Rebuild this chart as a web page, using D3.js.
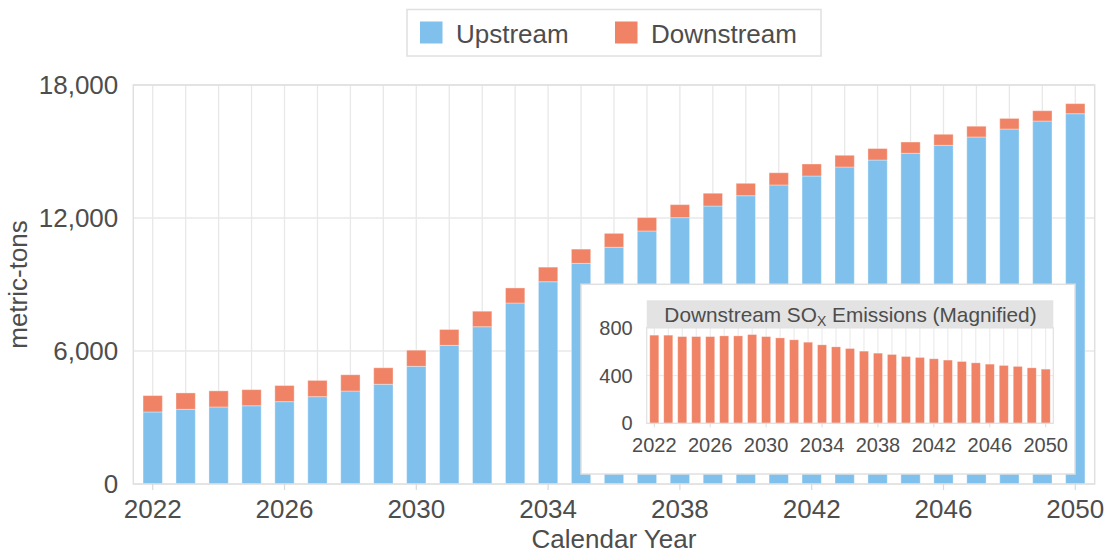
<!DOCTYPE html>
<html>
<head>
<meta charset="utf-8">
<script src="https://cdn.jsdelivr.net/npm/d3@7"></script>
<style>
  html, body { margin: 0; padding: 0; background: #fff; }
  svg { display: block; }
  text { font-family: "Liberation Sans", Arial, sans-serif; fill: #4d4d4d; }
</style>
</head>
<body>
<svg id="chart" width="1107" height="554"></svg>
<script>
// ---- data ----
const years = d3.range(2022, 2051);
const upstream = [3250, 3370, 3475, 3530, 3715, 3940, 4195, 4500, 5310, 6255,
                  7095, 8165, 9125, 9955, 10680, 11415, 12015, 12540, 13005, 13490,
                  13895, 14300, 14615, 14920, 15280, 15655, 16015, 16375, 16705];
const downstream = [739, 739, 727, 727, 727, 733, 733, 744, 727, 716,
                    700, 680, 658, 641, 627, 605, 588, 577, 560, 552,
                    541, 530, 518, 507, 496, 485, 477, 465, 454];
const seriesNames = ["Upstream", "Downstream"];
const yTicks = [0, 6000, 12000, 18000];
const xTickYears = [2022, 2026, 2030, 2034, 2038, 2042, 2046, 2050];
const insetYTicks = [0, 400, 800];

const colors = { Upstream: "#7fc0ed", Downstream: "#f08365" };
const gridColor = "#e8e8e8";
const borderColor = "#e0e0e0";

const svg = d3.select("#chart");

// ---- main chart ----
const x = d3.scaleBand().domain(years).range([133.3, 1094.7]).paddingInner(0.414).paddingOuter(0.296);
const y = d3.scaleLinear().domain([0, 18000]).range([484, 85]);

const main = svg.append("g");
// vertical gridlines at every year
main.append("g").selectAll("line").data(years).join("line")
  .attr("x1", d => x(d) + x.bandwidth() / 2).attr("x2", d => x(d) + x.bandwidth() / 2)
  .attr("y1", y(18000)).attr("y2", y(0))
  .attr("stroke", gridColor).attr("stroke-width", 1.3);
// horizontal gridlines
main.append("g").selectAll("line").data(yTicks).join("line")
  .attr("x1", 133.3).attr("x2", 1094.7)
  .attr("y1", d => y(d)).attr("y2", d => y(d))
  .attr("stroke", gridColor).attr("stroke-width", 1.3);

// stacked bars
const rows = years.map((yr, i) => ({ year: yr, Upstream: upstream[i], Downstream: downstream[i] }));
const stack = d3.stack().keys(seriesNames)(rows);
main.append("g").selectAll("g").data(stack).join("g")
  .attr("fill", d => colors[d.key])
  .selectAll("rect").data(d => d).join("rect")
  .attr("x", d => x(d.data.year))
  .attr("width", x.bandwidth())
  .attr("y", d => y(d[1]))
  .attr("height", d => y(d[0]) - y(d[1]))
  .attr("stroke", "#fff").attr("stroke-opacity", 0.35).attr("stroke-width", 1);

// panel border
main.append("rect").attr("x", 133.3).attr("y", 85).attr("width", 1094.7 - 133.3).attr("height", 484 - 85)
  .attr("fill", "none").attr("stroke", borderColor).attr("stroke-width", 1.5);

// x axis
const xAxis = d3.axisBottom(x).tickValues(xTickYears).tickSize(6).tickPadding(9.5).tickFormat(d3.format("d"));
const gx = main.append("g").attr("transform", "translate(0,484)").call(xAxis);
gx.select(".domain").remove();
gx.selectAll(".tick line").attr("stroke", "#d9d9d9").attr("stroke-width", 1.2);
gx.selectAll(".tick text").attr("font-size", 26).attr("fill", "#4d4d4d")
  .attr("font-family", '"Liberation Sans", Arial, sans-serif');

// y axis
const yAxis = d3.axisLeft(y).tickValues(yTicks).tickSize(0).tickPadding(15).tickFormat(d3.format(","));
const gy = main.append("g").attr("transform", "translate(133.3,0)").call(yAxis);
gy.select(".domain").remove();
gy.selectAll(".tick text").attr("font-size", 26).attr("fill", "#4d4d4d")
  .attr("font-family", '"Liberation Sans", Arial, sans-serif');

// axis titles
svg.append("text").attr("x", 614).attr("y", 548.3).attr("text-anchor", "middle")
  .attr("font-size", 26).text("Calendar Year");
svg.append("text").attr("transform", "translate(27,284.5) rotate(-90)").attr("text-anchor", "middle")
  .attr("font-size", 26).text("metric-tons");

// legend
const leg = svg.append("g");
leg.append("rect").attr("x", 407).attr("y", 9.5).attr("width", 414).attr("height", 46.5)
  .attr("fill", "#fff").attr("stroke", borderColor).attr("stroke-width", 1.5);
const legX = { Upstream: 420, Downstream: 615 };
seriesNames.forEach(k => {
  leg.append("rect").attr("x", legX[k]).attr("y", 21.5).attr("width", 22.5).attr("height", 22)
    .attr("fill", colors[k]);
  leg.append("text").attr("x", legX[k] + 36).attr("y", 43.3).attr("font-size", 26).text(k);
});

// ---- inset ----
const ins = svg.append("g");
ins.append("rect").attr("x", 581).attr("y", 284.3).attr("width", 1075 - 581).attr("height", 474 - 284.3)
  .attr("fill", "#fff").attr("stroke", borderColor).attr("stroke-width", 1.5);

const ix = d3.scaleBand().domain(years).range([646.7, 1053.3]).paddingInner(0.355).paddingOuter(0.22);
const iy = d3.scaleLinear().domain([0, 400]).range([423.3, 375.6]);
const iTop = 327.7, iBottom = 423.3;

ins.append("g").selectAll("line").data(years).join("line")
  .attr("x1", d => ix(d) + ix.bandwidth() / 2).attr("x2", d => ix(d) + ix.bandwidth() / 2)
  .attr("y1", iTop).attr("y2", iBottom)
  .attr("stroke", gridColor).attr("stroke-width", 1);
ins.append("g").selectAll("line").data(insetYTicks).join("line")
  .attr("x1", 646.7).attr("x2", 1053.3)
  .attr("y1", d => iy(d)).attr("y2", d => iy(d))
  .attr("stroke", gridColor).attr("stroke-width", 1);

ins.append("g").selectAll("rect").data(rows).join("rect")
  .attr("x", d => ix(d.year)).attr("width", ix.bandwidth())
  .attr("y", d => iy(d.Downstream)).attr("height", d => iy(0) - iy(d.Downstream))
  .attr("fill", colors.Downstream)
  .attr("stroke", "#fff").attr("stroke-opacity", 0.35).attr("stroke-width", 0.8);

ins.append("rect").attr("x", 646.7).attr("y", iTop).attr("width", 1053.3 - 646.7).attr("height", iBottom - iTop)
  .attr("fill", "none").attr("stroke", borderColor).attr("stroke-width", 1.2);

// strip
ins.append("rect").attr("x", 646.7).attr("y", 300.3).attr("width", 1053.3 - 646.7).attr("height", 27.4)
  .attr("fill", "#e3e3e3");
const st = ins.append("text").attr("x", 850.5).attr("y", 321.7).attr("text-anchor", "middle").attr("font-size", 20.8);
st.append("tspan").text("Downstream SO");
st.append("tspan").attr("font-size", 14).attr("dy", 4).text("X");
st.append("tspan").attr("dy", -4).text(" Emissions (Magnified)");

const ixAxis = d3.axisBottom(ix).tickValues(xTickYears).tickSize(4).tickPadding(11).tickFormat(d3.format("d"));
const gix = ins.append("g").attr("transform", `translate(0,${iBottom})`).call(ixAxis);
gix.select(".domain").remove();
gix.selectAll(".tick line").attr("stroke", "#d9d9d9");
gix.selectAll(".tick text").attr("font-size", 20).attr("fill", "#4d4d4d")
  .attr("font-family", '"Liberation Sans", Arial, sans-serif');

const iyAxis = d3.axisLeft(iy).tickValues(insetYTicks).tickSize(0).tickPadding(14).tickFormat(d3.format("d"));
const giy = ins.append("g").attr("transform", "translate(646.7,0)").call(iyAxis);
giy.select(".domain").remove();
giy.selectAll(".tick text").attr("font-size", 20).attr("fill", "#4d4d4d")
  .attr("font-family", '"Liberation Sans", Arial, sans-serif');
</script>
</body>
</html>
